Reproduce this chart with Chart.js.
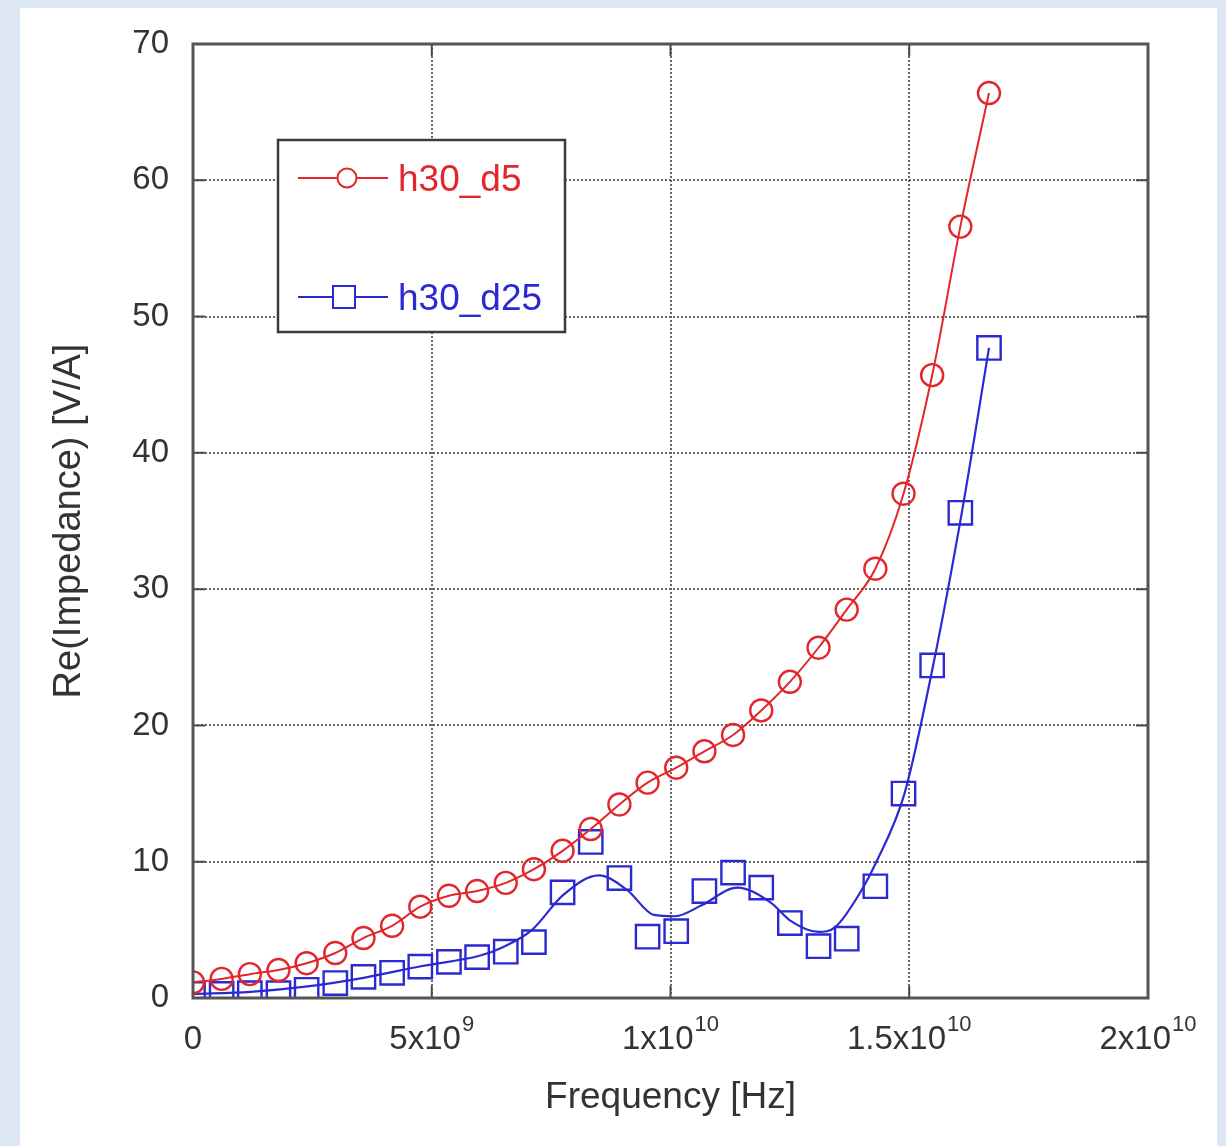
<!DOCTYPE html>
<html>
<head>
<meta charset="utf-8">
<script src="https://cdn.jsdelivr.net/npm/chart.js@4"></script>
<style>
  html, body { margin: 0; padding: 0; }
  body { width: 1226px; height: 1146px; background: #dde7f3; position: relative; overflow: hidden; }
  .panel { position: absolute; left: 20px; top: 8px; width: 1197px; height: 1138px; background: #fff; }
  #chart { position: absolute; left: 0; top: 0; }
</style>
</head>
<body>
<div class="panel"></div>
<canvas id="chart" width="1226" height="1146"></canvas>
<script>
// 数据
const freqs = [0, 0.6e9, 1.19e9, 1.79e9, 2.38e9, 2.98e9, 3.57e9, 4.17e9, 4.76e9, 5.36e9,
    5.95e9, 6.55e9, 7.14e9, 7.74e9, 8.33e9, 8.93e9, 9.52e9, 10.12e9, 10.71e9, 11.31e9,
    11.9e9, 12.5e9, 13.1e9, 13.69e9, 14.29e9, 14.88e9, 15.48e9, 16.07e9, 16.67e9];
const h30d5 = [1.15, 1.4, 1.75, 2.05, 2.55, 3.3, 4.4, 5.3, 6.7, 7.5,
    7.85, 8.45, 9.45, 10.8, 12.4, 14.2, 15.8, 16.9, 18.1, 19.3,
    21.1, 23.2, 25.7, 28.5, 31.5, 37.0, 45.7, 56.6, 66.4];
const h30d25 = [0.3, 0.3, 0.35, 0.35, 0.6, 1.1, 1.55, 1.85, 2.3, 2.65,
    3.0, 3.4, 4.1, 7.75, 11.45, 8.8, 4.5, 4.9, 7.85, 9.2,
    8.1, 5.5, 3.8, 4.35, 8.2, 15.0, 24.4, 35.6, 47.7];
// h30_d25 的拟合曲线
const fitFreqs = [0, 1.2e9, 2.4e9, 3.6e9, 4.8e9, 6.0e9, 6.5e9, 7.1e9, 7.75e9, 8.5e9,
    9.1e9, 9.65e9, 10.1e9, 10.65e9, 11.4e9, 12.1e9, 12.5e9, 13.1e9, 13.45e9, 14.0e9,
    14.3e9, 14.9e9, 15.5e9, 16.1e9, 16.67e9];
const fitVals = [0.3, 0.45, 0.85, 1.5, 2.35, 3.1, 3.75, 5.0, 7.55, 9.0,
    7.9, 6.1, 6.0, 6.8, 8.1, 7.0, 5.7, 4.85, 5.2, 7.9,
    9.9, 15.0, 24.4, 35.6, 47.7];
const xTicks = [0, 5e9, 1e10, 1.5e10, 2e10];
const xTickBase = ['0', '5x10', '1x10', '1.5x10', '2x10'];
const xTickExp = ['', '9', '10', '10', '10'];
const yTicks = [0, 10, 20, 30, 40, 50, 60, 70];

const RED = '#e2262b';
const BLUE = '#2a2ad0';
const FONT = '"Liberation Sans", Arial, sans-serif';

function pts(xs, ys) {
    return xs.map((x, i) => ({ x: x, y: ys[i] }));
}

// 边框、刻度线、x轴标签、图例
const framePlugin = {
    id: 'frame',
    afterDraw(chart) {
        const ctx = chart.ctx;
        const a = chart.chartArea;
        const xs = chart.scales.x, ys = chart.scales.y;
        ctx.save();
        ctx.strokeStyle = '#4a4a4a';
        ctx.lineWidth = 2;
        xTicks.forEach(v => {
            const px = xs.getPixelForValue(v);
            ctx.beginPath();
            ctx.moveTo(px, a.bottom); ctx.lineTo(px, a.bottom - 12);
            ctx.moveTo(px, a.top); ctx.lineTo(px, a.top + 12);
            ctx.stroke();
        });
        yTicks.forEach(v => {
            const py = ys.getPixelForValue(v);
            ctx.beginPath();
            ctx.moveTo(a.left, py); ctx.lineTo(a.left + 12, py);
            ctx.moveTo(a.right, py); ctx.lineTo(a.right - 12, py);
            ctx.stroke();
        });
        ctx.lineWidth = 3;
        ctx.strokeStyle = '#555';
        ctx.strokeRect(a.left, a.top, a.right - a.left, a.bottom - a.top);

        // x轴标签（带上标）
        ctx.fillStyle = '#333';
        ctx.textBaseline = 'alphabetic';
        ctx.textAlign = 'left';
        xTicks.forEach((v, i) => {
            const px = xs.getPixelForValue(v);
            ctx.font = '33px ' + FONT;
            const w1 = ctx.measureText(xTickBase[i]).width;
            ctx.font = '22px ' + FONT;
            const w2 = xTickExp[i] ? ctx.measureText(xTickExp[i]).width + 1 : 0;
            const x0 = px - (w1 + w2) / 2;
            ctx.font = '33px ' + FONT;
            ctx.fillText(xTickBase[i], x0, a.bottom + 51);
            if (xTickExp[i]) {
                ctx.font = '22px ' + FONT;
                ctx.fillText(xTickExp[i], x0 + w1 + 1, a.bottom + 33);
            }
        });

        // 图例
        const lx = 278, ly = 140, lw = 287, lh = 192;
        ctx.fillStyle = '#fff';
        ctx.fillRect(lx, ly, lw, lh);
        ctx.lineWidth = 2.5;
        ctx.strokeStyle = '#3a3a3a';
        ctx.strokeRect(lx, ly, lw, lh);
        const rows = [
            { y: 178, color: RED, label: 'h30_d5', shape: 'circle' },
            { y: 297, color: BLUE, label: 'h30_d25', shape: 'rect' }
        ];
        rows.forEach(r => {
            ctx.strokeStyle = r.color;
            ctx.lineWidth = 2;
            ctx.beginPath();
            ctx.moveTo(lx + 20, r.y); ctx.lineTo(lx + 110, r.y);
            ctx.stroke();
            ctx.beginPath();
            if (r.shape === 'circle') {
                ctx.arc(lx + 69, r.y, 9.5, 0, Math.PI * 2);
            } else {
                ctx.rect(lx + 66 - 11, r.y - 11, 22, 22);
            }
            ctx.fillStyle = '#fff';
            ctx.fill();
            ctx.stroke();
            ctx.fillStyle = r.color;
            ctx.font = '37px ' + FONT;
            ctx.fillText(r.label, lx + 120, r.y + 13);
        });
        ctx.restore();
    }
};

const ctx = document.getElementById('chart');
new Chart(ctx, {
    type: 'scatter',
    data: {
        datasets: [
            {
                label: 'h30_d5',
                data: pts(freqs, h30d5),
                showLine: true,
                borderColor: RED,
                backgroundColor: 'rgba(0,0,0,0)',
                borderWidth: 2,
                pointStyle: 'circle',
                pointRadius: 11,
                pointBorderWidth: 2.4,
                pointBorderColor: RED,
                cubicInterpolationMode: 'monotone'
            },
            {
                label: 'h30_d25 fit',
                data: pts(fitFreqs, fitVals),
                showLine: true,
                borderColor: BLUE,
                borderWidth: 2.2,
                pointRadius: 0,
                cubicInterpolationMode: 'monotone'
            },
            {
                label: 'h30_d25',
                data: pts(freqs, h30d25),
                showLine: false,
                pointStyle: 'rect',
                pointRadius: 16.5,
                pointBorderWidth: 2.4,
                pointBorderColor: BLUE,
                backgroundColor: 'rgba(0,0,0,0)'
            }
        ]
    },
    options: {
        responsive: false,
        animation: false,
        layout: { padding: { top: 44, right: 78, left: 0, bottom: 0 } },
        plugins: {
            legend: { display: false },
            tooltip: { enabled: false }
        },
        scales: {
            x: {
                type: 'linear',
                min: 0,
                max: 2e10,
                afterFit(scale) { scale.height = 148; },
                afterBuildTicks(scale) { scale.ticks = xTicks.map(v => ({ value: v })); },
                ticks: { display: false },
                grid: { color: '#666', lineWidth: 2, drawTicks: false },
                border: { display: false, dash: [2, 2] },
                title: {
                    display: true,
                    text: 'Frequency [Hz]',
                    color: '#333',
                    font: { family: FONT, size: 37 },
                    padding: { top: 0, bottom: 26 }
                }
            },
            y: {
                min: 0,
                max: 70,
                afterFit(scale) { scale.width = 193; },
                afterBuildTicks(scale) { scale.ticks = yTicks.map(v => ({ value: v })); },
                ticks: {
                    color: '#333',
                    font: { family: FONT, size: 33 },
                    padding: 24
                },
                grid: { color: '#666', lineWidth: 2, drawTicks: false },
                border: { display: false, dash: [2, 2] },
                title: {
                    display: true,
                    text: 'Re(Impedance) [V/A]',
                    color: '#333',
                    font: { family: FONT, size: 38 },
                    padding: { top: 47, bottom: 0 }
                }
            }
        }
    },
    plugins: [framePlugin]
});
</script>
</body>
</html>
